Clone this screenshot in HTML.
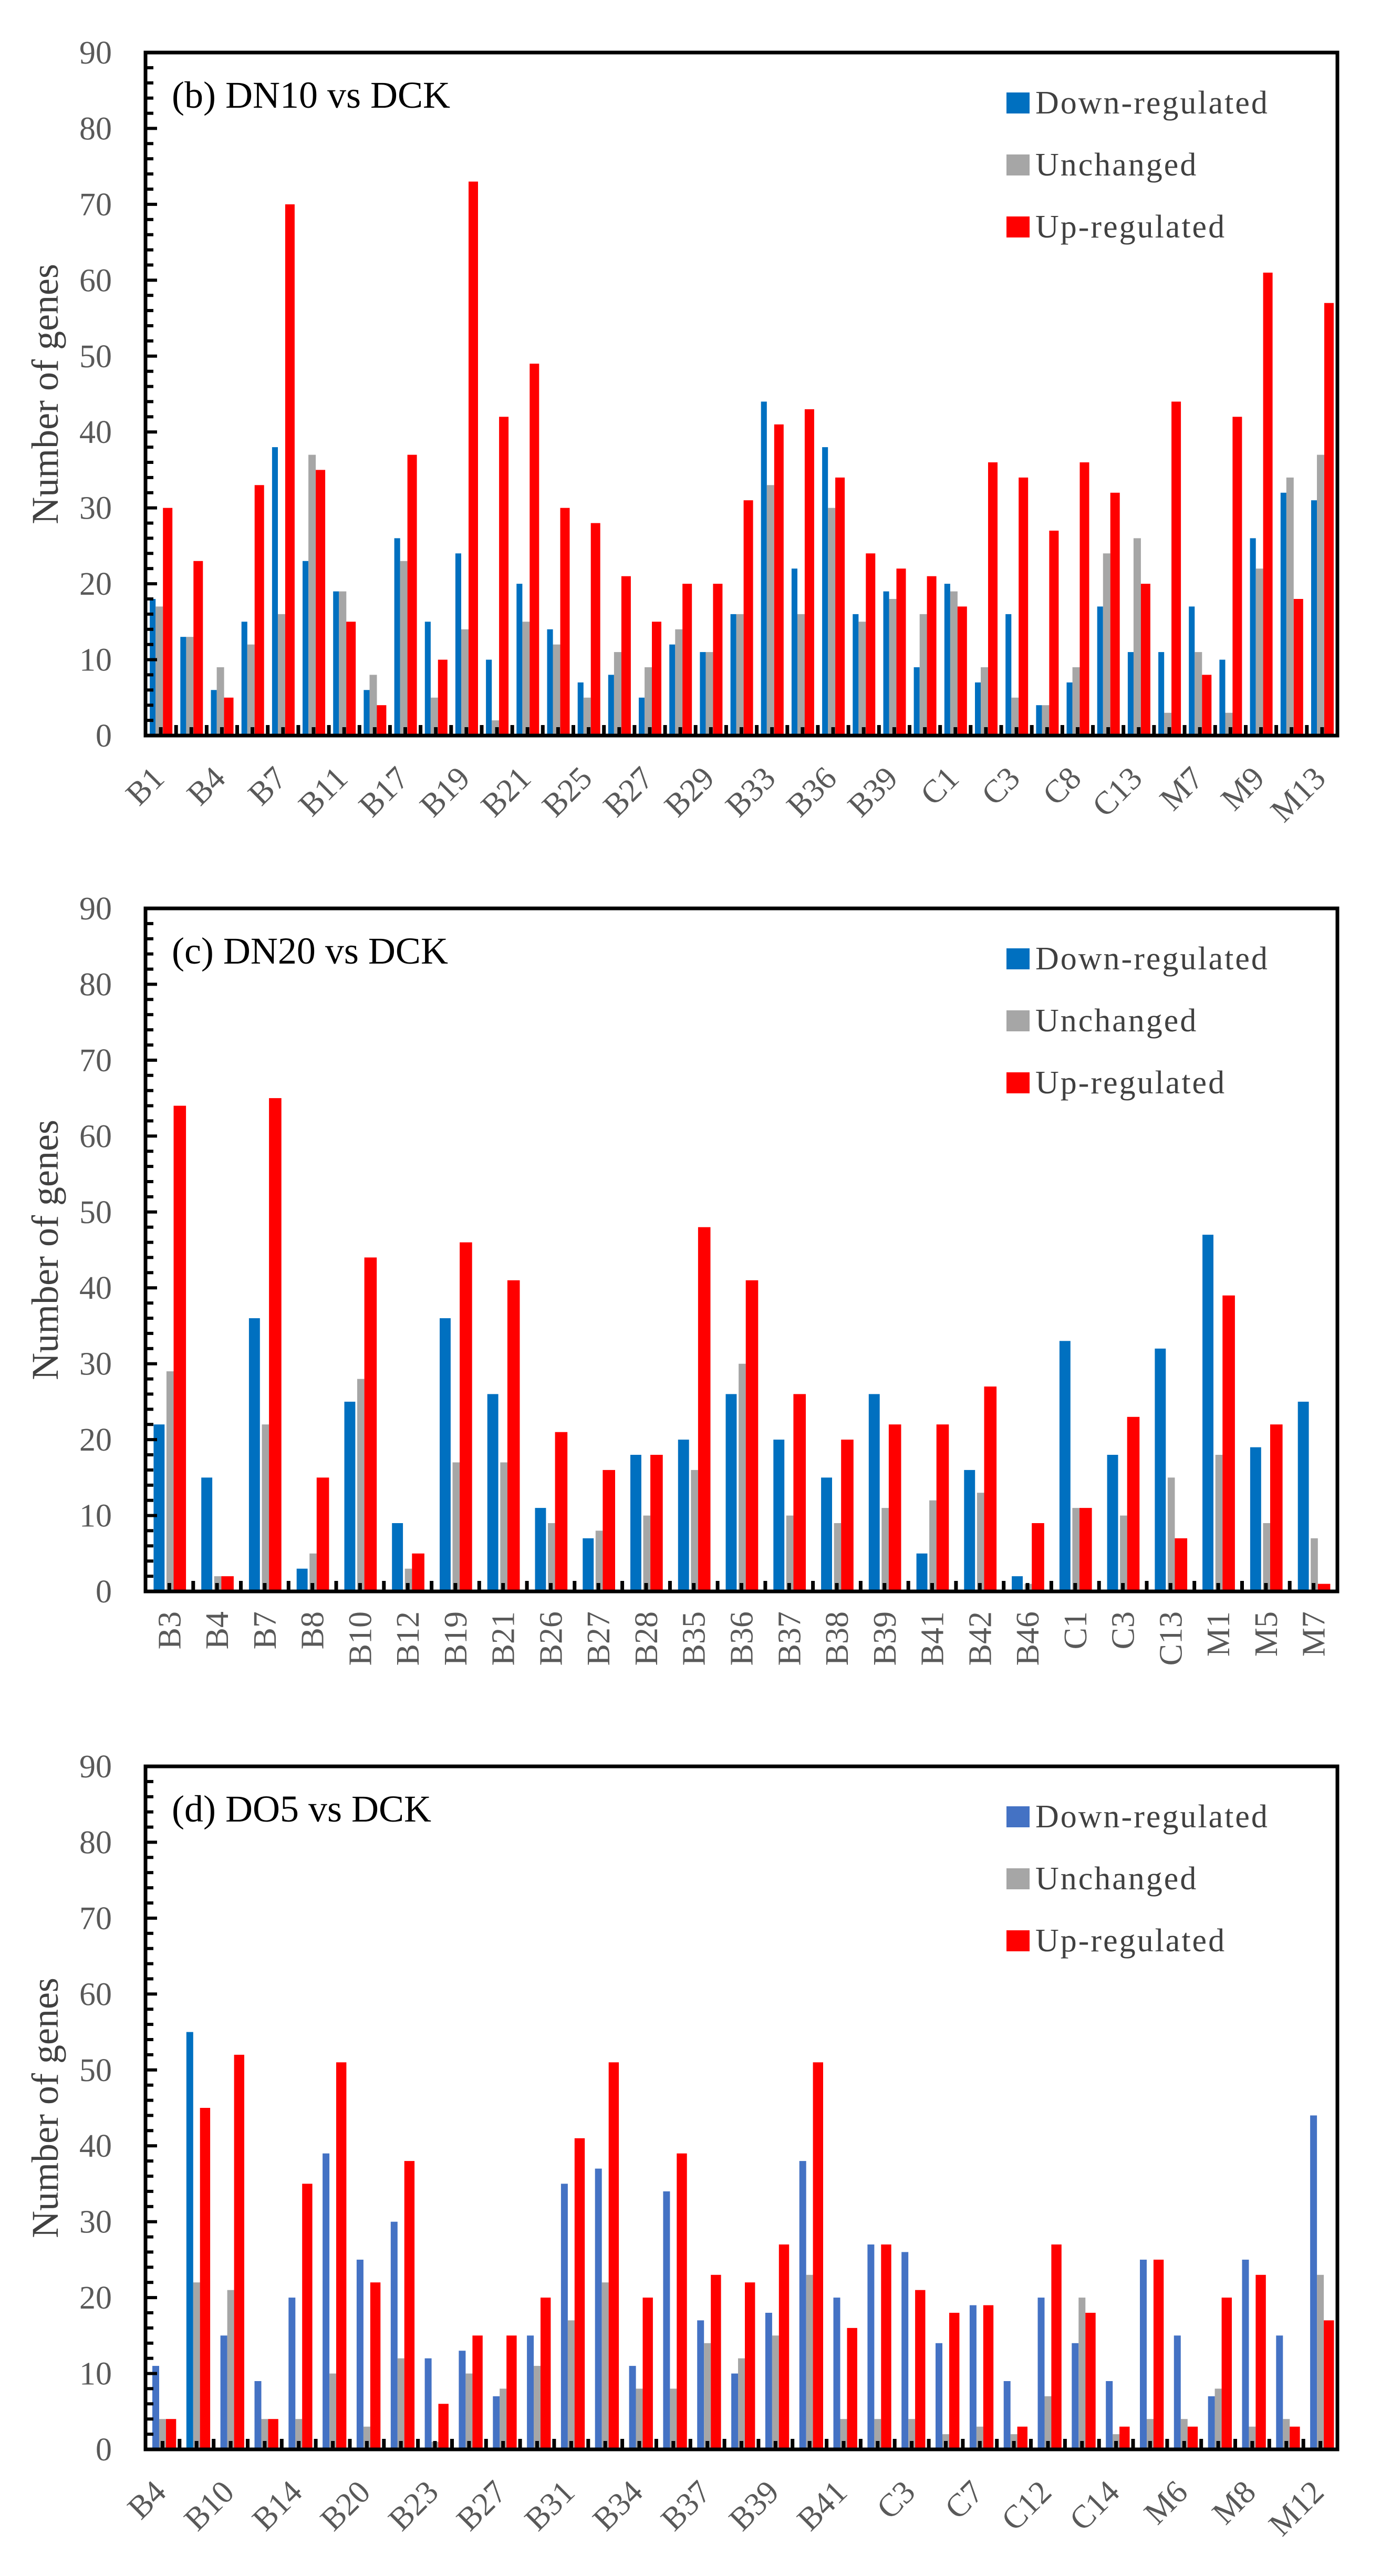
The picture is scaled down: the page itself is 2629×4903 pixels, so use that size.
<!DOCTYPE html>
<html><head><meta charset="utf-8">
<style>
html,body{margin:0;padding:0;background:#fff;}
svg{display:block;}
text{font-family:"Liberation Serif","Times New Roman",serif;}
</style></head>
<body>
<svg id="fig" width="2629" height="4903" viewBox="0 0 2629 4903" xmlns="http://www.w3.org/2000/svg"></svg>
<script>
// ---------- Panel (b) DN10 vs DCK ----------
const bCats = ["B1","","B4","","B7","","B11","","B17","","B19","","B21","","B25","","B27","","B29","","B33","","B36","","B39","","C1","","C3","","C8","","C13","","M7","","M9","","M13"];
const bDown = [18,13,6,15,38,23,19,6,26,15,24,10,20,14,7,8,5,12,11,16,44,22,38,16,19,9,20,7,16,4,7,17,11,11,17,10,26,32,31];
const bUnch = [17,13,9,12,16,37,19,8,23,5,14,2,15,12,5,11,9,14,11,16,33,16,30,15,18,16,19,9,5,4,9,24,26,3,11,3,22,34,37];
const bUp   = [30,23,5,33,70,35,15,4,37,10,73,42,49,30,28,21,15,20,20,31,41,43,34,24,22,21,17,36,34,27,36,32,20,44,8,42,61,18,57];
// ---------- Panel (c) DN20 vs DCK ----------
const cCats = ["B3","B4","B7","B8","B10","B12","B19","B21","B26","B27","B28","B35","B36","B37","B38","B39","B41","B42","B46","C1","C3","C13","M1","M5","M7"];
const cDown = [22,15,36,3,25,9,36,26,11,7,18,20,26,20,15,26,5,16,2,33,18,32,47,19,25];
const cUnch = [29,2,22,5,28,3,17,17,9,8,10,16,30,10,9,11,12,13,1,11,10,15,18,9,7];
const cUp   = [64,2,65,15,44,5,46,41,21,16,18,48,41,26,20,22,22,27,9,11,23,7,39,22,1];
// ---------- Panel (d) DO5 vs DCK ----------
const dCats = ["B4","","B10","","B14","","B20","","B23","","B27","","B31","","B34","","B37","","B39","","B41","","C3","","C7","","C12","","C14","","M6","","M8","","M12"];
const dDown = [11,55,15,9,20,39,25,30,12,13,7,15,35,37,11,34,17,10,18,38,20,27,26,14,19,9,20,14,9,25,15,7,25,15,44];
const dUnch = [4,22,21,4,4,10,3,12,1,10,8,11,17,22,8,8,14,12,15,23,4,4,4,2,3,2,7,20,2,4,4,8,3,4,23];
const dUp   = [4,45,52,4,35,51,22,38,6,15,15,20,41,51,20,39,23,22,27,51,16,27,21,18,19,3,27,18,3,25,3,20,23,3,17];
const yTicks = [0,10,20,30,40,50,60,70,80,90];
const legendLabels = ["Down-regulated","Unchanged","Up-regulated"];

const NS = "http://www.w3.org/2000/svg";
const fig = document.getElementById("fig");
function mk(tag, attrs, parent){
  const e = document.createElementNS(NS, tag);
  for (const k in attrs) e.setAttribute(k, attrs[k]);
  (parent||fig).appendChild(e);
  return e;
}

function panel(cfg){
  const g = mk("g", {});
  
  
  const L = 277, R = 2546, T = cfg.top, B = cfg.top + 1300;
  const yMax = 90;
  const yS = v => B - v / yMax * (B - T);
  const n = cfg.cats.length;
  const gw = (R - L) / n;
  const xS = i => L + i * gw;

  // bars
  const series = [
    {vals: cfg.down, a: cfg.pos[0], b: cfg.pos[1], name: "down"},
    {vals: cfg.unch, a: cfg.pos[2], b: cfg.pos[3], name: "unchanged"},
    {vals: cfg.up,   a: cfg.pos[4], b: cfg.pos[5], name: "up"}
  ];
  series.forEach((s, si) => {
    s.vals.forEach((v, i) => {
      let col = si === 0 ? cfg.blue : (si === 1 ? "#A6A6A6" : "#FF0000");
      if (si === 0 && cfg.blueAlt && cfg.blueAlt[i]) col = cfg.blueAlt[i];
      const x0 = xS(i) + s.a * gw, x1 = xS(i) + s.b * gw;
      const r = mk("rect", {x: x0.toFixed(1), y: yS(v).toFixed(1), width: (x1 - x0).toFixed(1), height: (B - yS(v)).toFixed(1), fill: col}, g);
      
      
    });
  });

  // x ticks (inward, at boundaries and centers)
  for (let k = 1; k < 2 * n; k++) {
    const x = L + k * gw / 2;
    const h = (k % 2 === 0) ? 20 : 16;
    const t = mk("rect", {x: (x - 3.5).toFixed(1), y: B - h, width: 7, height: h, fill: "#000"}, g);
    
    
  }
  // y minor/major ticks
  for (let v = 2; v < yMax; v += 2) {
    const major = v % 10 === 0;
    const t = mk("rect", {x: L, y: (yS(v) - 3).toFixed(1), width: major ? 22 : 15, height: 6, fill: "#000"}, g);
    
    
  }
  // frame
  const fr = mk("rect", {x: L, y: T, width: R - L, height: B - T, fill: "none", stroke: "#000", "stroke-width": 7}, g);
  
  

  // y tick labels
  yTicks.forEach(v => {
    const t = mk("text", {x: 213, y: (yS(v) + 21).toFixed(1), "text-anchor": "end", "font-size": 62, fill: "#595959"}, g);
    t.textContent = v;
    
    
  });
  // y axis title
  const yc = (T + B) / 2;
  const yt = mk("text", {x: 110, y: yc, transform: "rotate(-90 110 " + yc + ")", "text-anchor": "middle", "font-size": 72, fill: "#404040"}, g);
  yt.textContent = "Number of genes";
  
  

  // x labels
  cfg.cats.forEach((c, i) => {
    if (!c) return;
    const cx = xS(i) + gw / 2;
    let t;
    if (cfg.vertical) {
      const ax = cx + 21, ay = B + 38;
      t = mk("text", {x: ax.toFixed(1), y: ay, transform: "rotate(-90 " + ax.toFixed(1) + " " + ay + ")", "text-anchor": "end", "font-size": 62, fill: "#595959"}, g);
    } else {
      const ax = cx + 10, ay = B + 85;
      t = mk("text", {x: ax.toFixed(1), y: ay, transform: "rotate(-45 " + ax.toFixed(1) + " " + ay + ")", "text-anchor": "end", "font-size": 62, fill: "#595959"}, g);
    }
    t.textContent = c;
    
    
  });

  // panel title
  const tt = mk("text", {x: 327, y: T + 105, "font-size": 72, fill: "#000"}, g);
  tt.textContent = cfg.title;
  
  

  // legend
  const lcols = [cfg.blue, "#A6A6A6", "#FF0000"];
  legendLabels.forEach((lab, k) => {
    const by = T + 116 + k * 118;
    const sq = mk("rect", {x: 1916, y: by - 40, width: 44, height: 40, fill: lcols[k]}, g);
    
    
    const lt = mk("text", {x: 1971, y: by, "font-size": 62, "letter-spacing": 3, fill: "#404040"}, g);
    lt.textContent = lab;
    
    
  });
}

panel({id: "panel-b-dn10", title: "(b) DN10 vs DCK", top: 100, cats: bCats, down: bDown, unch: bUnch, up: bUp,
       pos: [0.14, 0.33, 0.33, 0.57, 0.57, 0.88], blue: "#0070C0", vertical: false});
panel({id: "panel-c-dn20", title: "(c) DN20 vs DCK", top: 1729, cats: cCats, down: cDown, unch: cUnch, up: cUp,
       pos: [0.17, 0.40, 0.44, 0.59, 0.59, 0.85], blue: "#0070C0", vertical: true});
panel({id: "panel-d-do5", title: "(d) DO5 vs DCK", top: 3362, cats: dCats, down: dDown, unch: dUnch, up: dUp,
       pos: [0.20, 0.40, 0.40, 0.60, 0.60, 0.90], blue: "#4472C4", blueAlt: {1: "#0070C0"}, vertical: false});
</script>
</body></html>
